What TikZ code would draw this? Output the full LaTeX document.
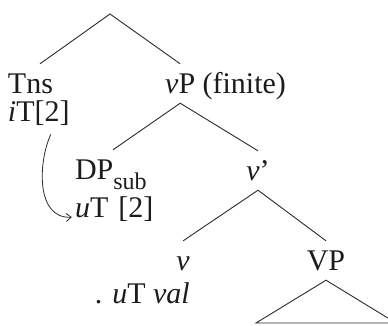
\documentclass[tikz,border=0pt]{standalone}
\usepackage{fontspec}
\setmainfont{Liberation Serif}
\usetikzlibrary{arrows.meta, positioning}
\newcommand\treefont{\fontsize{30}{34}\selectfont}
\newcommand\lsub[1]{\raisebox{-10pt}{\fontsize{24}{24}\selectfont #1}}
\definecolor{LineDark}{HTML}{2B2B2B}
\definecolor{TextDark}{HTML}{1C1C1C}

\begin{document}
\begin{tikzpicture}[
        x=1pt, y=-1pt,
        cat/.style={inner xsep=0pt, inner ysep=10pt, text height=19pt, text depth=0pt, font=\treefont, text=TextDark},
        feat/.style={inner sep=0pt, font=\treefont, text=TextDark},
        branch/.style={line width=0.9pt, draw=LineDark},
        agree/.style={-{Straight Barb[length=5pt, width=8pt]}, line width=0.8pt, draw=LineDark}
      ]
        \useasboundingbox (0,0) rectangle (388,325);
        % Nodes
        \coordinate (root) at (110,14);
        \node[cat, text width=64pt, align=left, anchor=base] (tns) at (40,93) {Tns};
        \node[feat, text width=64pt, align=left, anchor=base] (tnsfeat) at (40,121) {\textit{i}T[2]};
        \node[cat, anchor=base west] (vp) at (165,93) {\textit{v}P};
        \node[feat, anchor=base west] (finite) at ([xshift=7pt]vp.base east) {(finite)};
        \node[cat, text width=76pt, align=left, anchor=base] (dp) at (113,179) {DP\lsub{sub}};
        \node[feat, text width=76pt, align=left, anchor=base] (dpfeat) at (113,217) {\textit{u}T~[2]};
        \node[cat, anchor=base] (vbar) at (258,180) {\textit{v}'};
        \node[cat, anchor=base east] (vhead) at (190,270) {\textit{v}};
        \node[feat, anchor=base east] (vfeat) at (190,303) {. \textit{u}T \textit{val}};
        \node[cat, anchor=base] (vplow) at (326,270) {VP};
        \coordinate (triL) at (256,323);
        \coordinate (triR) at (396,323);

        % Branches
        \draw[branch] (tns.north) -- (root) -- (vp.north);
        \draw[branch] (dp.north) -- (vp.south) -- (vbar.north);
        \draw[branch] (vhead.north) -- (vbar.south) -- (vplow.north);
        \begin{scope}
          \clip (0,0) rectangle (388,325);
          \draw[branch] (vplow.south) -- (triL) -- (triR) -- cycle;
        \end{scope}

        % Agree
        \draw[agree, shorten <=10pt, shorten >=3pt] ([xshift=15pt]tnsfeat.south) .. controls +(-17,37) and +(-39,2) .. (dpfeat.base west);
      \end{tikzpicture}
\end{document}
